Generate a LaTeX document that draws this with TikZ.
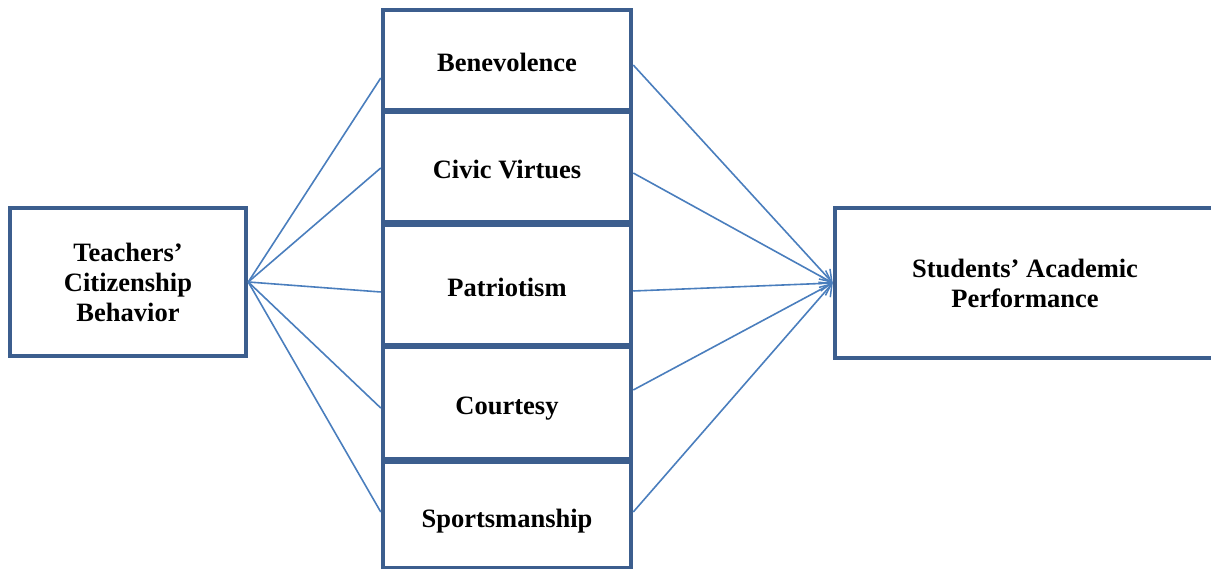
\documentclass[tikz,border=0pt]{standalone}
\usepackage{fontspec}
\setmainfont{Liberation Serif}
\usetikzlibrary{arrows.meta}
\definecolor{boxblue}{RGB}{60,94,142}
\definecolor{linkblue}{RGB}{74,126,189}
\begin{document}
\begin{tikzpicture}[
    x=1pt, y=-1pt,
    block/.style={rectangle, draw=boxblue, line width=4.5pt, fill=white, inner sep=0pt,
        align=center, font=\fontsize{26.5}{30}\selectfont\bfseries},
    factor/.style={block, minimum width=248pt, text height=30pt, text depth=6pt},
    link/.style={linkblue, line width=1.6pt},
    arrow/.style={link, -{Straight Barb[length=11pt,width=15pt,line width=1.5pt]}}
]
\useasboundingbox (0,0) rectangle (1211,569);

% Outer blocks
\node[block, minimum width=236pt, minimum height=148pt] (teacher) at (128,282)
    {Teachers'\\Citizenship\\Behavior};
\node[block, minimum width=380pt, minimum height=150pt] (students) at (1025,283)
    {Students' Academic\\Performance};

% Dimensions
\node[factor, minimum height=106pt] (sports) at (507,515) {Sportsmanship};
\node[factor, minimum height=112pt] (courtesy) at (507,403) {Courtesy};
\node[factor, minimum height=120pt] (patriot) at (507,285) {Patriotism};
\node[factor, minimum height=110pt] (civic) at (507,167) {Civic Virtues};
\node[factor, minimum height=100pt] (benev) at (507,60) {Benevolence};

% Links from teacher
\draw[link] (teacher.east) -- ([yshift=-18pt]benev.west);
\draw[link] (teacher.east) -- ([yshift=-1pt]civic.west);
\draw[link] (teacher.east) -- ([yshift=-7pt]patriot.west);
\draw[link] (teacher.east) -- ([yshift=-5pt]courtesy.west);
\draw[link] (teacher.east) -- ([yshift=3pt]sports.west);

% Arrows to students
\draw[arrow] ([yshift=-5pt]benev.east) -- (students.west);
\draw[arrow] ([yshift=-6pt]civic.east) -- (students.west);
\draw[arrow] ([yshift=-6pt]patriot.east) -- (students.west);
\draw[arrow] ([yshift=13pt]courtesy.east) -- (students.west);
\draw[arrow] ([yshift=3pt]sports.east) -- (students.west);

\end{tikzpicture}
\end{document}
